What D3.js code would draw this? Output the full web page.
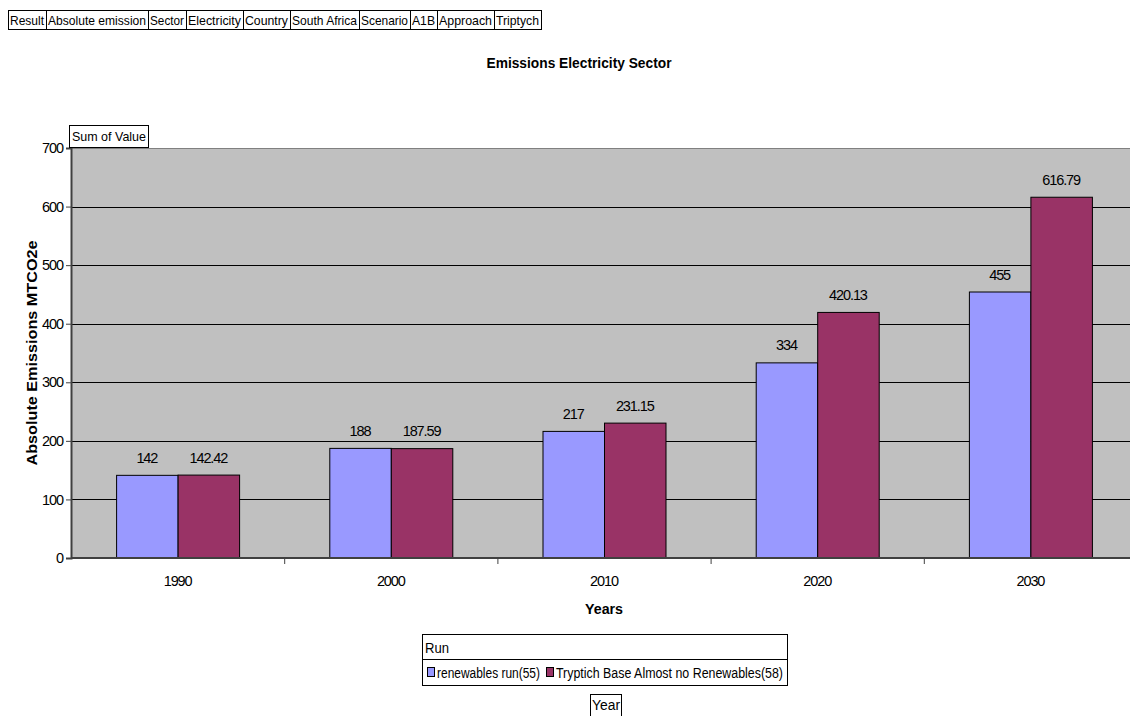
<!DOCTYPE html>
<html><head><meta charset="utf-8">
<script src="https://cdn.jsdelivr.net/npm/d3@7"></script>
<style>
body{margin:0;background:#fff;}
svg{font-family:"Liberation Sans",Arial,sans-serif;}
</style></head>
<body><svg id="c" width="1130" height="716"></svg>
<script>
const years = ["1990","2000","2010","2020","2030"];
const seriesNames = ["renewables run(55)","Tryptich Base Almost no Renewables(58)"];
const renewables = [142,188,217,334,455];
const tryptich = [142.42,187.59,231.15,420.13,616.79];
const renewLabels = ["142","188","217","334","455"];
const trypLabels = ["142.42","187.59","231.15","420.13","616.79"];
const yTicks = [0,100,200,300,400,500,600,700];
const filterLabels = ["Result","Absolute emission","Sector","Electricity","Country","South Africa","Scenario","A1B","Approach","Triptych"];
const colors = ["#9999FF","#993366"];

const svg = d3.select("#c");
const L=71, R=1137, T=148, B=558;
const x = d3.scaleBand().domain(years).range([L,R]).paddingInner(0).paddingOuter(0);
const y = d3.scaleLinear().domain([0,700]).range([B,T]);
const LS = "-1.1px";

// filter boxes
const fEdges=[8,46,148,186,243,290,359,410,437,494,541];
const fg = svg.append("g");
filterLabels.forEach((t,i)=>{
  const x0=fEdges[i], x1=fEdges[i+1];
  fg.append("rect").attr("x",x0+0.5).attr("y",10.5).attr("width",x1-x0).attr("height",19).attr("fill","#fff").attr("stroke","#000");
  fg.append("text").attr("x",x0+2).attr("y",25).attr("font-size",13)
    .attr("textLength",x1-x0-4).attr("lengthAdjust","spacingAndGlyphs").text(t);
});

// title
svg.append("text").attr("x",579).attr("y",68).attr("text-anchor","middle").attr("font-size",15).attr("font-weight","bold")
  .attr("textLength",185).attr("lengthAdjust","spacingAndGlyphs").text("Emissions Electricity Sector");

// plot background
svg.append("rect").attr("x",L).attr("y",T).attr("width",R-L).attr("height",B-T).attr("fill","#C0C0C0");

// gridlines
svg.append("g").selectAll("line").data(yTicks.filter(d=>d>0)).join("line")
  .attr("x1",L).attr("x2",R).attr("y1",d=>Math.round(y(d))+0.5).attr("y2",d=>Math.round(y(d))+0.5)
  .attr("stroke",d=>d===700?"#808080":"#000").attr("stroke-width",1);

// bars
const series=[renewables,tryptich];
const labels=[renewLabels,trypLabels];
const barW = 61.5;
const gap = (x.bandwidth()-2*barW)/2;
const bx = (i,s)=> x(years[i]) + gap + s*barW;
series.forEach((vals,s)=>{
  svg.append("g").selectAll("rect").data(vals).join("rect")
    .attr("x",(d,i)=>bx(i,s)+0.5).attr("y",d=>y(d)+0.5).attr("width",barW).attr("height",d=>B-y(d))
    .attr("fill",colors[s]).attr("stroke","#000").attr("stroke-width",1);
  svg.append("g").selectAll("text").data(vals).join("text")
    .attr("x",(d,i)=>bx(i,s)+barW/2).attr("y",d=>y(d)-12).attr("text-anchor","middle")
    .attr("font-size",14.5).attr("letter-spacing",LS).text((d,i)=>labels[s][i]);
});

// y axis
const ya = d3.axisLeft(y).tickValues(yTicks).tickSize(5).tickFormat(d3.format("d"));
const yg = svg.append("g").attr("transform",`translate(${L},0)`).call(ya);
yg.select(".domain").attr("stroke","#404040").attr("stroke-width",2);
yg.selectAll(".tick line").attr("stroke","#404040");
yg.selectAll("text").attr("font-size",14.5).attr("font-family","Liberation Sans, Arial, sans-serif").attr("letter-spacing",LS).attr("fill","#000").attr("dx","0");

// x axis
const xa = d3.axisBottom(x).tickSize(0).tickPadding(18);
const xg = svg.append("g").attr("transform",`translate(0,${B})`).call(xa);
xg.select(".domain").attr("stroke","#404040").attr("stroke-width",2).attr("d",`M${L},0H${R}`);
xg.selectAll("text").attr("font-size",14.5).attr("font-family","Liberation Sans, Arial, sans-serif").attr("letter-spacing",LS).attr("fill","#000");
xg.selectAll("line.sep").data(years.slice(1)).join("line").attr("class","sep")
  .attr("x1",d=>x(d)+0.5).attr("x2",d=>x(d)+0.5).attr("y1",0).attr("y2",6).attr("stroke","#404040");

// axis titles
svg.append("text").attr("transform","translate(37,353) rotate(-90)").attr("text-anchor","middle")
  .attr("font-size",15.5).attr("font-weight","bold").attr("textLength",225).attr("lengthAdjust","spacingAndGlyphs").text("Absolute Emissions MTCO2e");
svg.append("text").attr("x",604).attr("y",614).attr("text-anchor","middle").attr("font-size",14).attr("font-weight","bold").attr("textLength",38).attr("lengthAdjust","spacingAndGlyphs").text("Years");

// Sum of Value box
svg.append("rect").attr("x",69.5).attr("y",125.5).attr("width",79).attr("height",22).attr("fill","#fff").attr("stroke","#000");
svg.append("text").attr("x",72).attr("y",141).attr("font-size",13).attr("textLength",74).attr("lengthAdjust","spacingAndGlyphs").text("Sum of Value");

// legend
const lg = svg.append("g");
lg.append("rect").attr("x",422.5).attr("y",634.5).attr("width",365).attr("height",51).attr("fill","#fff").attr("stroke","#000");
lg.append("line").attr("x1",422.5).attr("x2",787.5).attr("y1",659.5).attr("y2",659.5).attr("stroke","#000");
lg.append("text").attr("x",425).attr("y",653).attr("font-size",14).attr("textLength",24).attr("lengthAdjust","spacingAndGlyphs").text("Run");
const legX=[427,546];
const legW=[103,227];
seriesNames.forEach((n,i)=>{
  lg.append("rect").attr("x",legX[i]+0.5).attr("y",667.5).attr("width",7).attr("height",9).attr("fill",colors[i]).attr("stroke","#000");
  lg.append("text").attr("x",legX[i]+10).attr("y",678).attr("font-size",14)
    .attr("textLength",legW[i]).attr("lengthAdjust","spacingAndGlyphs").text(n);
});
svg.append("rect").attr("x",590.5).attr("y",694.5).attr("width",31).attr("height",22).attr("fill","#fff").attr("stroke","#000");
svg.append("text").attr("x",592).attr("y",710).attr("font-size",14).attr("textLength",28).attr("lengthAdjust","spacingAndGlyphs").text("Year");
</script></body></html>
